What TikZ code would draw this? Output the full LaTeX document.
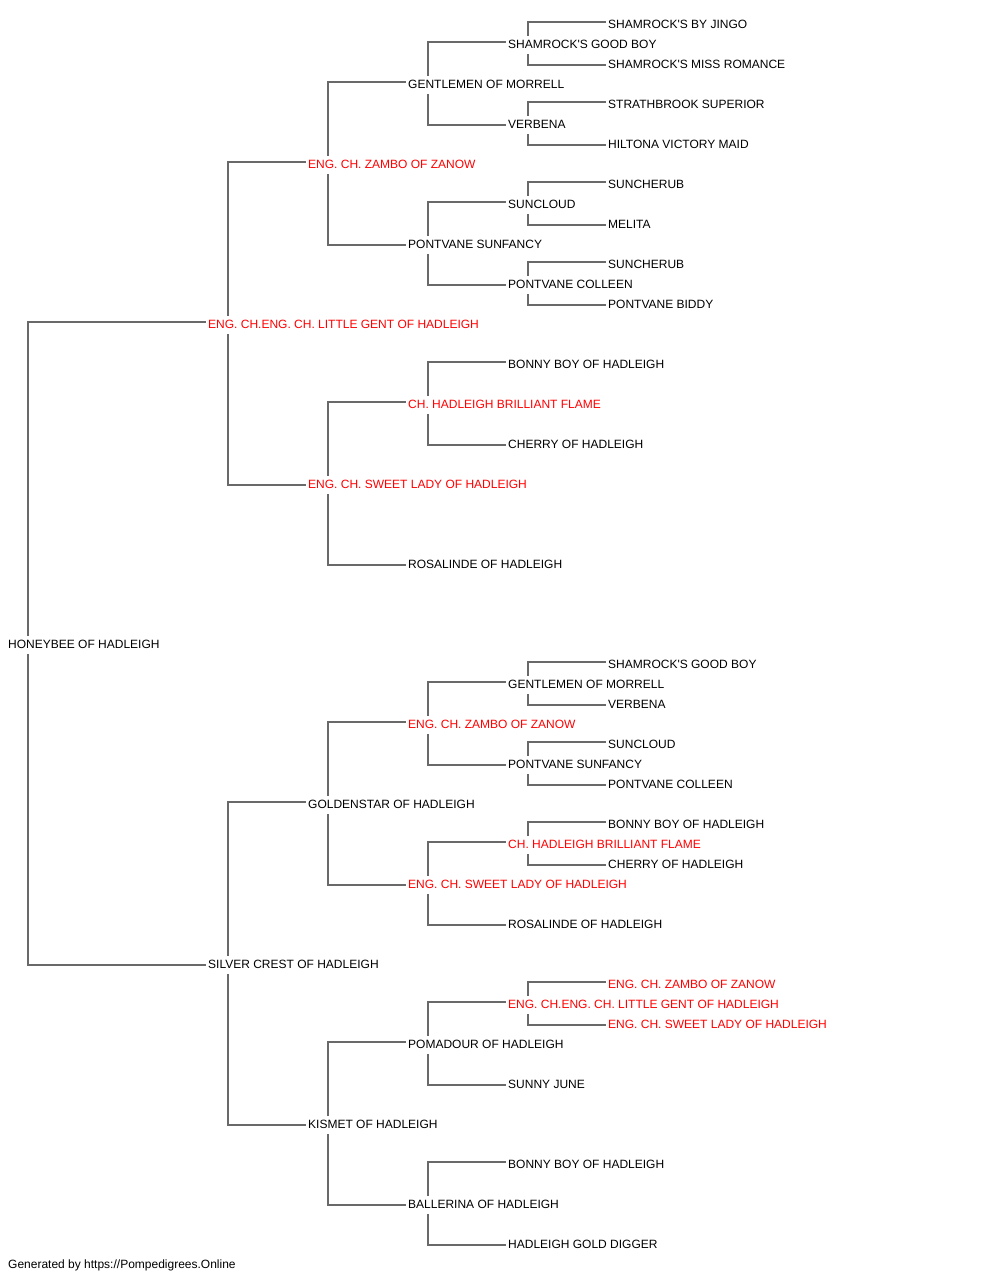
\documentclass[tikz,border=0pt]{standalone}
\usepackage{fontspec}
\setmainfont{Liberation Sans}
\usetikzlibrary{backgrounds}
\definecolor{lncol}{RGB}{105,105,105}
\definecolor{champcol}{RGB}{255,0,0}
\newcommand\ap{\textquotesingle}
\tikzset{
  lbl/.style={anchor=west,fill=white,inner xsep=2pt,inner ysep=3pt,text height=9pt,text depth=3pt,font=\fontsize{12}{14}\selectfont,text=black},
  champ/.style={lbl,text=champcol},
  link/.style={draw=lncol,line width=1.3pt}
}
% top (sire) and bottom (dam) connectors
\newcommand\lnkT[2]{\draw[link] ([xshift=22pt]#1.west) |- ([yshift=3pt]#2.west);}
\newcommand\lnkB[2]{\draw[link] ([xshift=22pt]#1.west) |- (#2.west);}
\newcommand\lnk[3]{\lnkT{#1}{#2}\lnkB{#1}{#3}}
\begin{document}
\begin{tikzpicture}[x=1pt,y=-1pt]
\useasboundingbox (0,0) rectangle (1000,1280);
\begin{scope}[yshift=-2pt]
% level 0
\node[lbl] (h) at (6,643) {HONEYBEE OF HADLEIGH};
% level 1
\node[champ] (a) at (206,323) {ENG. CH.ENG. CH. LITTLE GENT OF HADLEIGH};
\node[lbl] (b) at (206,963) {SILVER CREST OF HADLEIGH};
% level 2
\node[champ] (aa) at (306,163) {ENG. CH. ZAMBO OF ZANOW};
\node[champ] (ab) at (306,483) {ENG. CH. SWEET LADY OF HADLEIGH};
\node[lbl] (ba) at (306,803) {GOLDENSTAR OF HADLEIGH};
\node[lbl] (bb) at (306,1123) {KISMET OF HADLEIGH};
% level 3
\node[lbl] (aaa) at (406,83) {GENTLEMEN OF MORRELL};
\node[lbl] (aab) at (406,243) {PONTVANE SUNFANCY};
\node[champ] (aba) at (406,403) {CH. HADLEIGH BRILLIANT FLAME};
\node[lbl] (abb) at (406,563) {ROSALINDE OF HADLEIGH};
\node[champ] (baa) at (406,723) {ENG. CH. ZAMBO OF ZANOW};
\node[champ] (bab) at (406,883) {ENG. CH. SWEET LADY OF HADLEIGH};
\node[lbl] (bba) at (406,1043) {POMADOUR OF HADLEIGH};
\node[lbl] (bbb) at (406,1203) {BALLERINA OF HADLEIGH};
% level 4
\node[lbl] (aaaa) at (506,43) {SHAMROCK\ap S GOOD BOY};
\node[lbl] (aaab) at (506,123) {VERBENA};
\node[lbl] (aaba) at (506,203) {SUNCLOUD};
\node[lbl] (aabb) at (506,283) {PONTVANE COLLEEN};
\node[lbl] (abaa) at (506,363) {BONNY BOY OF HADLEIGH};
\node[lbl] (abab) at (506,443) {CHERRY OF HADLEIGH};
\node[lbl] (baaa) at (506,683) {GENTLEMEN OF MORRELL};
\node[lbl] (baab) at (506,763) {PONTVANE SUNFANCY};
\node[champ] (baba) at (506,843) {CH. HADLEIGH BRILLIANT FLAME};
\node[lbl] (babb) at (506,923) {ROSALINDE OF HADLEIGH};
\node[champ] (bbaa) at (506,1003) {ENG. CH.ENG. CH. LITTLE GENT OF HADLEIGH};
\node[lbl] (bbab) at (506,1083) {SUNNY JUNE};
\node[lbl] (bbba) at (506,1163) {BONNY BOY OF HADLEIGH};
\node[lbl] (bbbb) at (506,1243) {HADLEIGH GOLD DIGGER};
% level 5
\node[lbl] (aaaaa) at (606,23) {SHAMROCK\ap S BY JINGO};
\node[lbl] (aaaab) at (606,63) {SHAMROCK\ap S MISS ROMANCE};
\node[lbl] (aaaba) at (606,103) {STRATHBROOK SUPERIOR};
\node[lbl] (aaabb) at (606,143) {HILTONA VICTORY MAID};
\node[lbl] (aabaa) at (606,183) {SUNCHERUB};
\node[lbl] (aabab) at (606,223) {MELITA};
\node[lbl] (aabba) at (606,263) {SUNCHERUB};
\node[lbl] (aabbb) at (606,303) {PONTVANE BIDDY};
\node[lbl] (baaaa) at (606,663) {SHAMROCK\ap S GOOD BOY};
\node[lbl] (baaab) at (606,703) {VERBENA};
\node[lbl] (baaba) at (606,743) {SUNCLOUD};
\node[lbl] (baabb) at (606,783) {PONTVANE COLLEEN};
\node[lbl] (babaa) at (606,823) {BONNY BOY OF HADLEIGH};
\node[lbl] (babab) at (606,863) {CHERRY OF HADLEIGH};
\node[champ] (bbaaa) at (606,983) {ENG. CH. ZAMBO OF ZANOW};
\node[champ] (bbaab) at (606,1023) {ENG. CH. SWEET LADY OF HADLEIGH};
% footer
\node[lbl] (gen) at (6,1263) {Generated by https://Pompedigrees.Online};
\end{scope}
\begin{scope}[on background layer]
\fill[white] (0,0) rectangle (1000,1280);
\lnk{h}{a}{b}
\lnk{a}{aa}{ab}\lnk{b}{ba}{bb}
\lnk{aa}{aaa}{aab}\lnk{ab}{aba}{abb}
\lnk{ba}{baa}{bab}\lnk{bb}{bba}{bbb}
\lnk{aaa}{aaaa}{aaab}\lnk{aab}{aaba}{aabb}
\lnk{aba}{abaa}{abab}
\lnk{baa}{baaa}{baab}\lnk{bab}{baba}{babb}
\lnk{bba}{bbaa}{bbab}\lnk{bbb}{bbba}{bbbb}
\lnk{aaaa}{aaaaa}{aaaab}\lnk{aaab}{aaaba}{aaabb}
\lnk{aaba}{aabaa}{aabab}\lnk{aabb}{aabba}{aabbb}
\lnk{baaa}{baaaa}{baaab}\lnk{baab}{baaba}{baabb}
\lnk{baba}{babaa}{babab}
\lnk{bbaa}{bbaaa}{bbaab}
\end{scope}
\end{tikzpicture}
\end{document}
